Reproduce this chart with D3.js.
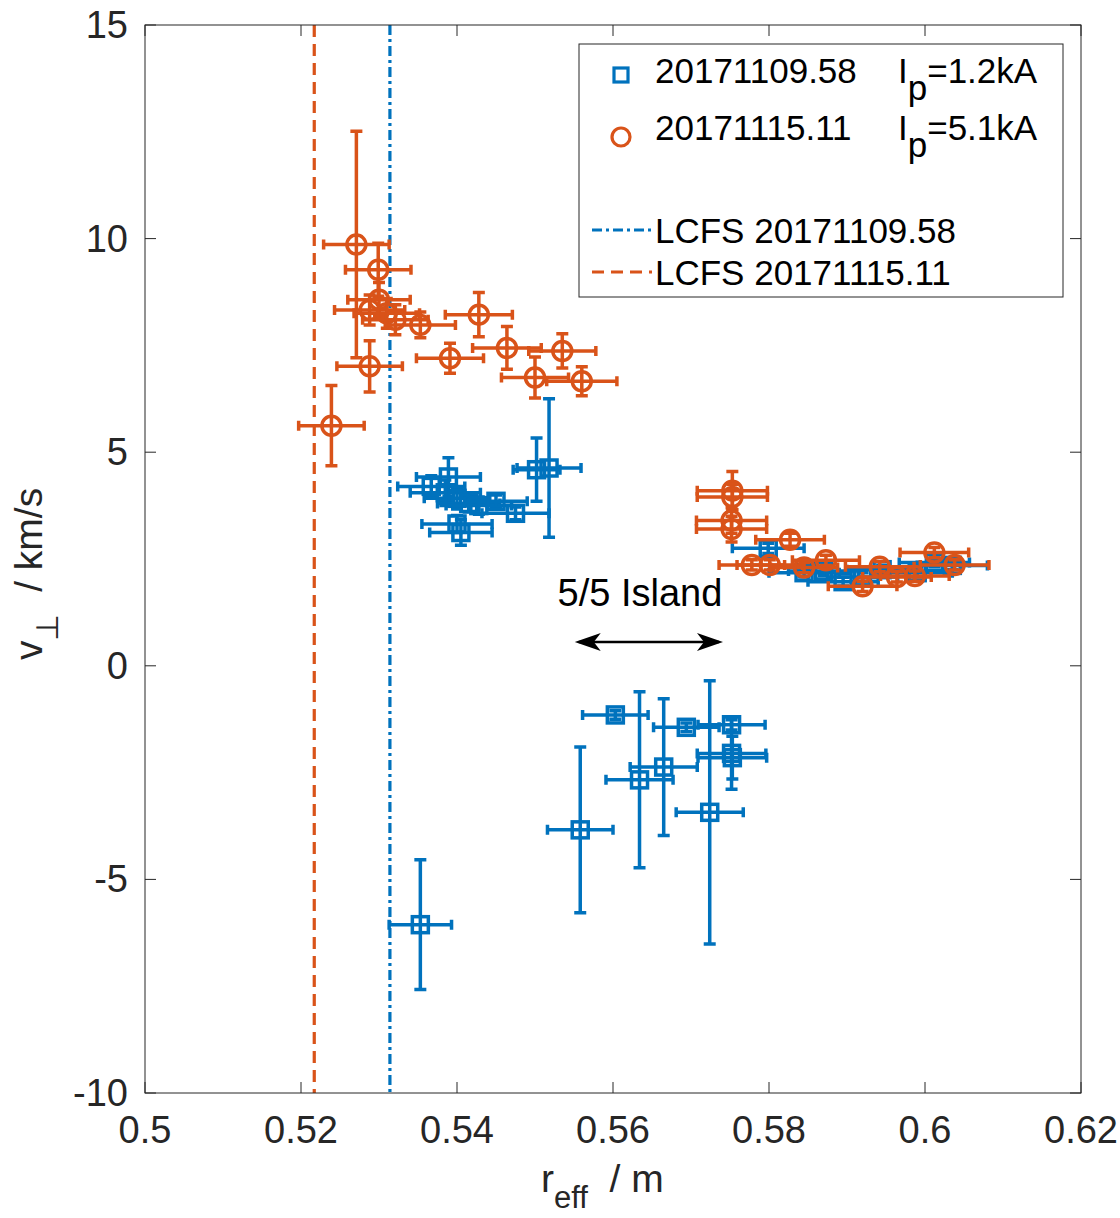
<!DOCTYPE html>
<html><head><meta charset="utf-8">
<script src="https://cdn.jsdelivr.net/npm/d3@7"></script>
<style>body{margin:0;background:#fff}text{font-family:"Liberation Sans",Arial,sans-serif}</style>
</head><body><svg id="c" width="1120" height="1218"></svg>
<script>
// ---- data ----
const xTicks = [0.5, 0.52, 0.54, 0.56, 0.58, 0.6, 0.62];
const xTickLabels = ["0.5", "0.52", "0.54", "0.56", "0.58", "0.6", "0.62"];
const yTicks = [-10, -5, 0, 5, 10, 15];
const yTickLabels = ["-10", "-5", "0", "5", "10", "15"];
const blueR =    [0.5389,0.5367,0.5385,0.5400,0.5415,0.5428,0.5450,0.5475,0.5400,0.5405,0.5502,0.5518,
                  0.5353,0.5558,0.5603,0.5634,0.5665,0.5694,0.5752,0.5752,0.5753,0.5724,
                  0.5799,0.5845,0.5870,0.5895,0.5920,0.5945,0.5990,0.6012,0.6035];
const blueV =    [4.42,4.20,4.05,3.92,3.80,3.75,3.85,3.57,3.32,3.12,4.59,4.63,
                  -6.06,-3.84,-1.15,-2.67,-2.37,-1.44,-1.38,-2.05,-2.15,-3.43,
                  2.75,2.18,2.22,1.97,2.08,2.25,2.18,2.42,2.35];
const blueRErr = [0.0041,0.0043,0.0045,0.0042,0.0040,0.0042,0.0040,0.0043,0.0045,0.0040,0.0030,0.0041,
                  0.0040,0.0042,0.0042,0.0043,0.0043,0.0042,0.0043,0.0044,0.0044,0.0043,
                  0.0046,0.0045,0.0045,0.0045,0.0045,0.0045,0.0045,0.0045,0.0045];
const blueVErr = [0.45,0.25,0.30,0.25,0.20,0.20,0.15,0.15,0.20,0.30,0.74,1.62,
                  1.52,1.94,0.10,2.06,1.60,0.10,0.12,0.84,0.50,3.08,
                  0.12,0.10,0.10,0.10,0.10,0.10,0.10,0.10,0.10];
const orangeR =    [0.5239,0.5271,0.5299,0.5288,0.5288,0.5300,0.5310,0.5321,0.5353,0.5391,0.5428,0.5464,0.5500,0.5535,0.5560,
                    0.5753,0.5753,0.5752,0.5752,0.5827,0.5778,0.5801,0.5845,0.5873,0.5920,0.5942,0.5964,0.5987,0.6012,0.6038];
const orangeV =    [5.62,9.86,9.27,7.01,8.33,8.57,8.25,8.10,7.98,7.20,8.22,7.44,6.75,7.37,6.66,
                    4.10,3.95,3.40,3.20,2.95,2.36,2.36,2.30,2.47,1.86,2.32,2.08,2.10,2.65,2.36];
const orangeRErr = [0.0042,0.0042,0.0042,0.0042,0.0045,0.0040,0.0042,0.0042,0.0045,0.0043,0.0043,0.0044,0.0043,0.0043,0.0045,
                    0.0045,0.0045,0.0045,0.0045,0.0044,0.0042,0.0042,0.0043,0.0043,0.0044,0.0044,0.0044,0.0044,0.0044,0.0044];
const orangeVErr = [0.94,2.65,0.62,0.60,0.35,0.40,0.35,0.35,0.30,0.35,0.52,0.50,0.48,0.40,0.34,
                    0.45,0.30,0.30,0.30,0.15,0.12,0.12,0.12,0.12,0.12,0.12,0.12,0.12,0.12,0.12];
const lcfsBlue = 0.5314, lcfsOrange = 0.5217;
const islandArrow = [0.5551, 0.5741, 0.56];

// ---- layout ----
const BLUE = "#0072BD", ORANGE = "#D95319", AX = "#262626";
const L = 145, R = 1081, T = 25, B = 1093;
const svg = d3.select("#c");
const x = d3.scaleLinear().domain([0.5, 0.62]).range([L, R]);
const y = d3.scaleLinear().domain([-10, 15]).range([B, T]);

svg.append("rect").attr("width",1120).attr("height",1218).attr("fill","#fff");

// vertical LCFS lines
svg.append("line").attr("x1",x(lcfsOrange)).attr("x2",x(lcfsOrange)).attr("y1",T).attr("y2",B)
  .attr("stroke",ORANGE).attr("stroke-width",3.2).attr("stroke-dasharray","12,7");
svg.append("line").attr("x1",x(lcfsBlue)).attr("x2",x(lcfsBlue)).attr("y1",T).attr("y2",B)
  .attr("stroke",BLUE).attr("stroke-width",3.2).attr("stroke-dasharray","10,4,3,4");

function drawSeries(rs, vs, re, ve, color, marker) {
  const g = svg.append("g").attr("stroke", color).attr("stroke-width", 3.5).attr("fill","none");
  const cap = 6;
  rs.forEach((r, i) => {
    const cx = x(r), cy = y(vs[i]);
    const y1 = y(vs[i] + ve[i]), y2 = y(vs[i] - ve[i]);
    const x1 = x(r - re[i]), x2 = x(r + re[i]);
    const p = d3.path();
    p.moveTo(cx, y1); p.lineTo(cx, y2);
    p.moveTo(cx - cap, y1); p.lineTo(cx + cap, y1);
    p.moveTo(cx - cap, y2); p.lineTo(cx + cap, y2);
    p.moveTo(x1, cy); p.lineTo(x2, cy);
    p.moveTo(x1, cy - cap + 1); p.lineTo(x1, cy + cap - 1);
    p.moveTo(x2, cy - cap + 1); p.lineTo(x2, cy + cap - 1);
    g.append("path").attr("d", p.toString());
    if (marker === "square") {
      g.append("rect").attr("x", cx - 8).attr("y", cy - 8).attr("width", 16).attr("height", 16);
    } else {
      g.append("circle").attr("cx", cx).attr("cy", cy).attr("r", 9.5);
    }
  });
}
drawSeries(blueR, blueV, blueRErr, blueVErr, BLUE, "square");
drawSeries(orangeR, orangeV, orangeRErr, orangeVErr, ORANGE, "circle");

// axes box & ticks
svg.append("rect").attr("x",L).attr("y",T).attr("width",R-L).attr("height",B-T)
  .attr("fill","none").attr("stroke",AX).attr("stroke-width",1);
const tk = svg.append("g").attr("stroke",AX).attr("stroke-width",1);
xTicks.forEach(v => {
  tk.append("line").attr("x1",x(v)).attr("x2",x(v)).attr("y1",B).attr("y2",B-11);
  tk.append("line").attr("x1",x(v)).attr("x2",x(v)).attr("y1",T).attr("y2",T+11);
});
yTicks.forEach(v => {
  tk.append("line").attr("x1",L).attr("x2",L+11).attr("y1",y(v)).attr("y2",y(v));
  tk.append("line").attr("x1",R).attr("x2",R-11).attr("y1",y(v)).attr("y2",y(v));
});
const TFS = 38, LFS = 35;
svg.append("g").selectAll("text").data(xTicks).join("text")
  .attr("x", d => x(d)).attr("y", B + 50).attr("text-anchor","middle")
  .attr("font-size",TFS).attr("fill",AX).text((d,i) => xTickLabels[i]);
svg.append("g").selectAll("text").data(yTicks).join("text")
  .attr("x", L - 17).attr("y", d => y(d) + 13).attr("text-anchor","end")
  .attr("font-size",TFS).attr("fill",AX).text((d,i) => yTickLabels[i]);

// axis labels
const xl = svg.append("text").attr("x", 541).attr("y", 1192).attr("font-size",39).attr("fill",AX);
xl.append("tspan").text("r");
xl.append("tspan").attr("dy",16).attr("font-size",31).text("eff");
xl.append("tspan").attr("dy",-16).attr("xml:space","preserve").text("  / m");
const yl = svg.append("text").attr("transform","translate(42,660) rotate(-90)").attr("font-size",39).attr("fill",AX);
yl.append("tspan").text("v");
yl.append("tspan").attr("dy",16).attr("font-size",31).text("\u22A5");
yl.append("tspan").attr("dy",-16).attr("xml:space","preserve").text("  / km/s");

// island annotation
const ay = y(islandArrow[2]), ax1 = x(islandArrow[0]), ax2 = x(islandArrow[1]);
svg.append("line").attr("x1",ax1+4).attr("x2",ax2-4).attr("y1",ay).attr("y2",ay).attr("stroke","#000").attr("stroke-width",2.5);
svg.append("path").attr("d",`M${ax1},${ay} L${ax1+26},${ay-9} L${ax1+19},${ay} L${ax1+26},${ay+9} Z`).attr("fill","#000");
svg.append("path").attr("d",`M${ax2},${ay} L${ax2-26},${ay-9} L${ax2-19},${ay} L${ax2-26},${ay+9} Z`).attr("fill","#000");
svg.append("text").attr("x",640).attr("y",606).attr("text-anchor","middle").attr("font-size",38).attr("fill","#000").text("5/5 Island");

// legend
const lg = svg.append("g");
lg.append("rect").attr("x",579).attr("y",44).attr("width",484).attr("height",253).attr("fill","#fff").attr("stroke","#262626").attr("stroke-width",1);
lg.append("rect").attr("x",614).attr("y",68).attr("width",14).attr("height",14).attr("fill","none").attr("stroke",BLUE).attr("stroke-width",3.2);
lg.append("circle").attr("cx",621).attr("cy",137).attr("r",9).attr("fill","none").attr("stroke",ORANGE).attr("stroke-width",3.2);
const legRows = [["20171109.58","=1.2kA",83],["20171115.11","=5.1kA",140]];
legRows.forEach(([a,b,yy]) => {
  lg.append("text").attr("x",655).attr("y",yy).attr("font-size",LFS).attr("fill","#000").text(a);
  const t = lg.append("text").attr("x",898).attr("y",yy).attr("font-size",LFS).attr("fill","#000");
  t.append("tspan").text("I");
  t.append("tspan").attr("dy",17).text("p");
  t.append("tspan").attr("dy",-17).text(b);
});
lg.append("line").attr("x1",592).attr("x2",652).attr("y1",230).attr("y2",230).attr("stroke",BLUE).attr("stroke-width",3.2).attr("stroke-dasharray","10,4,3,4");
lg.append("line").attr("x1",592).attr("x2",652).attr("y1",272).attr("y2",272).attr("stroke",ORANGE).attr("stroke-width",3.2).attr("stroke-dasharray","12,7");
lg.append("text").attr("x",655).attr("y",243).attr("font-size",LFS).attr("fill","#000").text("LCFS 20171109.58");
lg.append("text").attr("x",655).attr("y",285).attr("font-size",LFS).attr("fill","#000").text("LCFS 20171115.11");
</script></body></html>
